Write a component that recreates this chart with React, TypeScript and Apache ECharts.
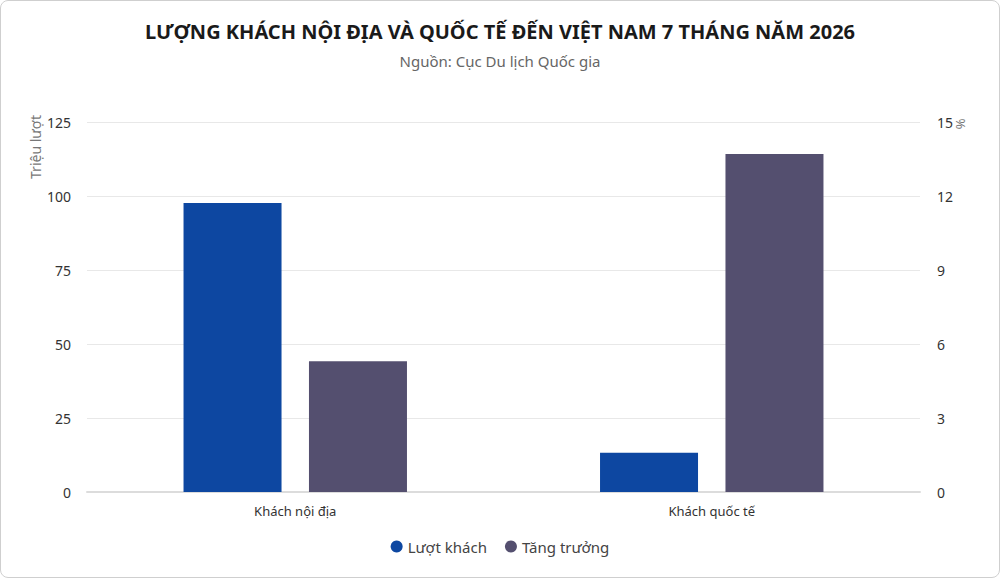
import React, { useEffect, useRef } from "react";
import * as echarts from "echarts";

const categories = ["Khách nội địa", "Khách quốc tế"];
const visitors = [97.6, 13.3];
const growth = [5.3, 13.7];
const leftTicks = [0, 25, 50, 75, 100, 125];
const rightTicks = [0, 3, 6, 9, 12, 15];

const FONT = "'Noto Sans', 'DejaVu Sans', sans-serif";

export default function App() {
  const ref = useRef<HTMLDivElement>(null);
  useEffect(() => {
    if (!ref.current) return;
    const chart = echarts.init(ref.current, undefined, { renderer: "svg" });
    chart.setOption({
      animation: false,
      textStyle: { fontFamily: FONT },
      title: {
        text: "LƯỢNG KHÁCH NỘI ĐỊA VÀ QUỐC TẾ ĐẾN VIỆT NAM 7 THÁNG NĂM 2026",
        subtext: "Nguồn: Cục Du lịch Quốc gia",
        left: "center",
        top: 15,
        itemGap: 12,
        textStyle: { fontSize: 20, fontWeight: "bold", color: "#1a1a1a", fontFamily: FONT },
        subtextStyle: { fontSize: 15, color: "#666", fontFamily: FONT },
      },
      legend: {
        bottom: 18,
        left: "center",
        icon: "circle",
        itemWidth: 12,
        itemHeight: 12,
        itemGap: 18,
        textStyle: { fontSize: 15, color: "#444", fontFamily: FONT },
        data: ["Lượt khách", "Tăng trưởng"],
      },
      grid: { left: 86, right: 79, top: 121, bottom: 85, containLabel: false },
      xAxis: {
        type: "category",
        data: categories,
        axisLine: { lineStyle: { color: "#dcdcdc", width: 2 } },
        axisTick: { show: false },
        axisLabel: { fontSize: 13, color: "#333", margin: 12, fontFamily: FONT },
      },
      yAxis: [
        {
          type: "value",
          min: leftTicks[0],
          max: leftTicks[leftTicks.length - 1],
          interval: 25,
          axisLine: { show: false },
          axisTick: { show: false },
          axisLabel: { fontSize: 14, color: "#333", margin: 16, fontFamily: FONT },
          splitLine: { lineStyle: { color: "#e8e8e8", width: 1 } },
        },
        {
          type: "value",
          min: rightTicks[0],
          max: rightTicks[rightTicks.length - 1],
          interval: 3,
          axisLine: { show: false },
          axisTick: { show: false },
          axisLabel: { fontSize: 14, color: "#333", margin: 17, fontFamily: FONT },
          splitLine: { show: false },
        },
      ],
      series: [
        {
          name: "Lượt khách",
          type: "bar",
          yAxisIndex: 0,
          data: visitors,
          barWidth: 98,
          barGap: "28%",
          itemStyle: { color: "#0D47A1" },
        },
        {
          name: "Tăng trưởng",
          type: "bar",
          yAxisIndex: 1,
          data: growth,
          barWidth: 98,
          itemStyle: { color: "#544F6F" },
        },
      ],
      graphic: [
        {
          type: "text",
          x: 34,
          y: 146,
          rotation: Math.PI / 2,
          style: {
            text: "Triệu lượt",
            fill: "#777",
            fontSize: 14,
            fontFamily: FONT,
            align: "center",
            verticalAlign: "middle",
          },
        },
        {
          type: "text",
          x: 960,
          y: 123,
          rotation: -Math.PI / 2,
          style: {
            text: "%",
            fill: "#777",
            fontSize: 13,
            fontFamily: FONT,
            align: "center",
            verticalAlign: "middle",
          },
        },
      ],
    });
    return () => chart.dispose();
  }, []);
  return (
    <div
      style={{
        position: "fixed",
        left: 0,
        top: 0,
        width: 1000,
        height: 578,
        boxSizing: "border-box",
        border: "1px solid #cfcfcf",
        borderRadius: 8,
        background: "#fff",
        overflow: "hidden",
      }}
    >
      <div ref={ref} style={{ width: 998, height: 576 }} />
    </div>
  );
}
